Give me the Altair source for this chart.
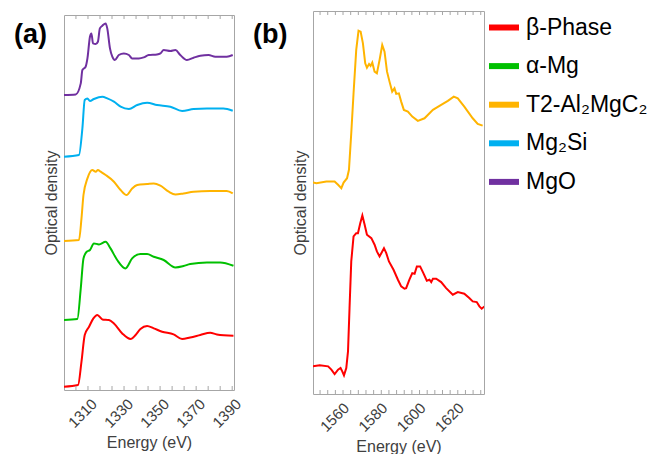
import altair as alt
import pandas as pd

# ---------------- series / legend ----------------
series_names = ["β-Phase", "α-Mg", "T2-Al₂MgC₂", "Mg₂Si", "MgO"]
series_colors = ["#ff0000", "#00c000", "#ffb400", "#00b0f0", "#7030a0"]

# ---------------- panel (a): Mg K-edge ----------------
a_mgo_e = [1296.7, 1303.2, 1306.0, 1306.9, 1308.7, 1309.7, 1311.1, 1311.9, 1312.8, 1314.3,
           1315.5, 1316.6, 1318.0, 1319.8, 1320.7, 1322.2, 1323.5, 1324.9, 1327.1, 1329.9,
           1332.7, 1334.5, 1338.2, 1340.9, 1343.7, 1348.3, 1350.2, 1352.0, 1355.7, 1358.5,
           1361.2, 1364.9, 1368.6, 1372.3, 1376.9, 1380.6, 1387.0, 1390.3]
a_mgo_od = [295.0, 295.6, 306.6, 320.0, 323.3, 331.6, 353.3, 356.6, 346.6, 346.0,
            348.3, 361.6, 364.3, 366.6, 361.6, 341.6, 333.3, 330.0, 335.0, 336.6,
            335.0, 331.6, 331.6, 332.6, 335.0, 335.6, 336.6, 340.0, 339.0, 340.0,
            335.0, 330.0, 332.3, 334.3, 335.0, 333.3, 333.3, 335.0]

a_mg2si_e = [1296.7, 1305.0, 1306.9, 1308.2, 1309.7, 1311.1, 1313.3, 1318.0, 1320.7, 1324.4,
             1328.1, 1332.7, 1337.3, 1342.8, 1348.3, 1355.7, 1362.2, 1368.6, 1376.0, 1385.1,
             1390.3]
a_mg2si_od = [233.3, 235.0, 261.6, 290.0, 291.6, 289.0, 291.0, 293.3, 291.6, 288.3,
              283.3, 281.0, 285.0, 287.3, 285.0, 283.3, 279.0, 281.0, 281.6, 281.6,
              279.3]

a_t2_e = [1296.7, 1305.0, 1306.4, 1307.5, 1309.7, 1312.4, 1314.3, 1315.5, 1317.0, 1319.8,
          1324.4, 1328.1, 1331.4, 1334.5, 1337.3, 1342.8, 1346.5, 1350.2, 1354.8, 1358.5,
          1363.0, 1368.6, 1377.8, 1387.0, 1390.3]
a_t2_od = [149.0, 150.0, 171.6, 195.0, 211.6, 220.0, 218.3, 220.0, 218.3, 215.0,
           208.3, 200.0, 195.0, 201.6, 205.0, 206.0, 206.6, 204.3, 198.3, 195.6,
           196.6, 198.3, 199.0, 199.0, 196.6]

a_alpha_e = [1296.7, 1304.1, 1306.0, 1307.5, 1309.3, 1311.1, 1313.3, 1316.1, 1319.8, 1322.5,
             1326.2, 1330.8, 1334.5, 1339.1, 1342.8, 1346.5, 1352.0, 1358.5, 1363.0, 1366.7,
             1376.0, 1383.3, 1390.7]
a_alpha_od = [70.0, 71.0, 101.6, 131.6, 138.3, 140.0, 146.6, 145.6, 148.3, 141.6,
              130.0, 121.6, 131.6, 136.0, 136.0, 133.3, 130.0, 122.6, 124.0, 126.0,
              127.6, 127.6, 124.3]

a_beta_e = [1296.7, 1304.5, 1306.4, 1308.2, 1310.6, 1313.0, 1315.2, 1318.0, 1321.6, 1324.4,
            1329.0, 1333.6, 1336.4, 1339.1, 1342.8, 1346.5, 1351.1, 1357.5, 1362.2, 1366.7,
            1372.3, 1377.8, 1381.5, 1390.7]
a_beta_od = [3.3, 5.0, 28.3, 55.0, 63.3, 71.6, 75.0, 70.6, 70.0, 66.6,
             56.6, 51.0, 55.0, 61.0, 64.0, 61.6, 58.3, 55.6, 51.0, 52.6,
             55.0, 57.3, 55.6, 54.3]

# ---------------- panel (b): Al K-edge ----------------
b_t2_e = [1544.3, 1546.1, 1551.3, 1555.6, 1557.4, 1559.1, 1560.3, 1562.1, 1563.1, 1564.3,
          1565.5, 1566.9, 1568.1, 1569.2, 1570.4, 1571.6, 1572.5, 1573.6, 1574.4, 1575.3,
          1576.5, 1577.7, 1579.1, 1580.5, 1581.7, 1583.0, 1584.3, 1585.7, 1586.9, 1587.8,
          1589.2, 1590.4, 1591.8, 1593.9, 1596.2, 1599.1, 1602.6, 1607.0, 1611.3, 1614.8,
          1617.9, 1620.0, 1623.4, 1627.8, 1630.4, 1633.0]
b_t2_od = [211.7, 211.0, 212.7, 212.7, 209.4, 206.0, 211.7, 216.0, 224.4, 261.0,
           301.0, 344.4, 363.7, 362.7, 351.0, 331.0, 326.7, 330.4, 328.4, 331.7,
           322.7, 321.0, 334.4, 349.4, 342.7, 322.7, 312.7, 302.7, 306.0, 300.4,
           301.0, 292.7, 284.4, 282.7, 277.7, 273.4, 276.0, 284.4, 289.4, 293.4,
           297.7, 296.0, 287.7, 276.0, 270.4, 268.7]

b_beta_e = [1544.3, 1547.8, 1552.2, 1553.9, 1555.6, 1557.4, 1558.7, 1559.6, 1560.5, 1561.7,
            1562.6, 1563.4, 1564.3, 1565.5, 1566.9, 1567.8, 1569.0, 1570.1, 1571.3, 1572.5,
            1574.8, 1576.5, 1577.7, 1579.1, 1580.5, 1581.4, 1582.6, 1584.0, 1586.4, 1588.7,
            1590.4, 1592.1, 1593.0, 1594.7, 1596.2, 1597.4, 1598.6, 1600.3, 1602.0, 1603.8,
            1605.2, 1606.1, 1607.0, 1608.7, 1611.3, 1613.9, 1617.4, 1620.0, 1623.4, 1626.0,
            1627.8, 1629.9, 1631.3, 1632.5, 1633.9]
b_beta_od = [27.7, 28.7, 27.7, 24.4, 20.0, 24.4, 26.0, 22.7, 18.7, 26.0,
             42.7, 86.0, 132.7, 157.7, 161.0, 161.0, 171.0, 178.7, 169.4, 159.4,
             156.0, 149.4, 142.7, 137.7, 142.7, 146.0, 141.0, 132.7, 124.4, 114.4,
             107.7, 105.4, 106.0, 114.4, 121.0, 120.4, 127.7, 127.7, 121.0, 113.4,
             114.4, 112.0, 115.4, 115.4, 112.0, 106.0, 99.4, 102.0, 100.4, 96.0,
             92.7, 92.0, 87.7, 85.4, 87.7]

# ---------------- axes ----------------
a_domain = [1296.7, 1391.0]
b_domain = [1544.3, 1633.7]
a_tick_labels = [1310, 1330, 1350, 1370, 1390]
b_tick_labels = [1560, 1580, 1600, 1620]
a_minor_ticks = [1303.33, 1310, 1316.67, 1323.33, 1330, 1336.67, 1343.33, 1350, 1356.67,
                 1363.33, 1370, 1376.67, 1383.33, 1390]
b_minor_ticks = [1548, 1552, 1556, 1560, 1564, 1568, 1572, 1576, 1580, 1584, 1588, 1592,
                 1596, 1600, 1604, 1608, 1612, 1616, 1620, 1624, 1628, 1632]
a_y_domain = [0, 375]
b_y_domain = [0, 383.4]
panel_labels = ["(a)", "(b)"]

A_W, A_H = 170, 375
B_W, B_H = 171, 383

FRAME = "#a6a6a6"
TXT = "#404040"


def long_df(pairs):
    rows = []
    for name, es, vs in pairs:
        for e, v in zip(es, vs):
            rows.append({"series": name, "energy": e, "od": v})
    return pd.DataFrame(rows)


df_a = long_df([
    (series_names[4], a_mgo_e, a_mgo_od),
    (series_names[3], a_mg2si_e, a_mg2si_od),
    (series_names[2], a_t2_e, a_t2_od),
    (series_names[1], a_alpha_e, a_alpha_od),
    (series_names[0], a_beta_e, a_beta_od),
])
df_b = long_df([
    (series_names[2], b_t2_e, b_t2_od),
    (series_names[0], b_beta_e, b_beta_od),
])

legend = alt.Legend(
    title=None, orient="none", legendX=422, legendY=-1.5,
    symbolType="stroke", symbolStrokeWidth=6, symbolSize=900,
    labelFontSize=23, labelColor="black", labelOffset=4, rowPadding=8.6,
    padding=0, labelLimit=220,
)
color = alt.Color("series:N", scale=alt.Scale(domain=series_names, range=series_colors),
                  legend=legend)


def panel(df, domain, ydomain, tick_labels, minor_ticks, W, H, label, label_x, label_y,
          interp, label_offset):
    xs = alt.Scale(domain=domain, nice=False, zero=False)
    ys = alt.Scale(domain=ydomain, nice=False, zero=False)
    xaxis = alt.Axis(
        title="Energy (eV)", values=tick_labels, format="d", labelAngle=315,
        labelAlign="right", labelBaseline="middle", labelOffset=label_offset,
        labelPadding=11, labelFontSize=15, labelColor=TXT, ticks=False, domain=False,
        grid=False, titleFontSize=16, titleFontWeight="normal", titleColor=TXT,
        titlePadding=4)
    lines = alt.Chart(df).mark_line(strokeWidth=2, interpolate=interp, clip=True).encode(
        x=alt.X("energy:Q", scale=xs, axis=xaxis),
        y=alt.Y("od:Q", scale=ys, axis=alt.Axis(
            title="Optical density", labels=False, ticks=False, domain=False, grid=False,
            titleFontSize=16, titleFontWeight="normal", titleColor=TXT, titlePadding=5)),
        color=color,
        detail="series:N",
    )
    tdf = pd.DataFrame({"energy": minor_ticks})
    top_ticks = alt.Chart(tdf).mark_rule(color=FRAME, strokeWidth=1).encode(
        x=alt.X("energy:Q", scale=xs, axis=xaxis), y=alt.value(0), y2=alt.value(4))
    bot_ticks = alt.Chart(tdf).mark_rule(color=FRAME, strokeWidth=1).encode(
        x=alt.X("energy:Q", scale=xs, axis=xaxis), y=alt.value(H), y2=alt.value(H - 4))
    txt = alt.Chart(pd.DataFrame({"label": [label]})).mark_text(
        font="Liberation Sans", fontWeight="bold", fontSize=27, align="left",
        baseline="alphabetic", color="black").encode(
        x=alt.value(label_x), y=alt.value(label_y), text="label:N")
    return alt.layer(lines, top_ticks, bot_ticks, txt).properties(width=W, height=H)


pa = panel(df_a, a_domain, a_y_domain, a_tick_labels, a_minor_ticks, A_W, A_H,
           panel_labels[0], -50, 28, "monotone", 6)
pb = panel(df_b, b_domain, b_y_domain, b_tick_labels, b_minor_ticks, B_W, B_H,
           panel_labels[1], -60, 32, "linear", 3)

chart = alt.hconcat(pa, pb, spacing=79, bounds="flush", center=True).properties(
    padding={"left": 13, "top": 9, "right": 3, "bottom": 0}
).configure(font="Liberation Sans").configure_view(stroke=FRAME, strokeWidth=1)

chart.save("out.html", embed_options={"renderer": "svg", "actions": False})
